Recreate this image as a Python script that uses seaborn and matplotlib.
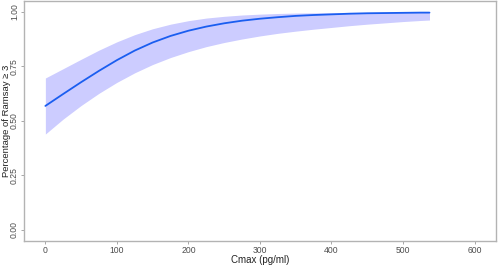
import matplotlib
matplotlib.use("Agg")
import matplotlib.pyplot as plt
import seaborn as sns
import pandas as pd

# values
cmax = [0, 25, 50, 75, 100, 125, 150, 175, 200, 225, 250, 275, 300,
        325, 350, 375, 400, 425, 450, 475, 500, 525, 537]
prob = [0.569, 0.624, 0.678, 0.730, 0.779, 0.823, 0.860, 0.890, 0.914, 0.933,
        0.948, 0.960, 0.969, 0.976, 0.982, 0.986, 0.989, 0.992, 0.994, 0.995,
        0.996, 0.997, 0.997]
upper = [0.697, 0.740, 0.783, 0.825, 0.863, 0.896, 0.923, 0.944, 0.960, 0.972,
         0.980, 0.986, 0.990, 0.993, 0.995, 0.996, 0.997, 0.998, 0.998, 0.999,
         0.999, 0.999, 0.999]
lower = [0.440, 0.509, 0.571, 0.627, 0.677, 0.721, 0.759, 0.791, 0.818, 0.841,
         0.860, 0.876, 0.890, 0.902, 0.912, 0.921, 0.929, 0.937, 0.944, 0.950,
         0.956, 0.961, 0.963]

x_ticks = [0, 100, 200, 300, 400, 500, 600]
y_ticks = [0.00, 0.25, 0.50, 0.75, 1.00]

df = pd.DataFrame({"Cmax": cmax, "prob": prob, "lo": lower, "hi": upper})

sns.set_style("white")
plt.rcParams["font.family"] = ["Liberation Sans", "DejaVu Sans"]

fig = plt.figure(figsize=(4.98, 2.65), dpi=100)
ax = fig.add_axes([0.048, 0.091, 0.948, 0.905])

ax.fill_between(df["Cmax"], df["lo"], df["hi"], color="#ccccff", linewidth=0)
sns.lineplot(data=df, x="Cmax", y="prob", color="#1a5ef0", linewidth=1.3, ax=ax)

ax.set_xlim(-30, 630)
ax.set_ylim(-0.05, 1.05)
ax.set_xticks(x_ticks)
ax.set_xticklabels([str(t) for t in x_ticks])
ax.set_yticks(y_ticks)
ax.set_yticklabels([f"{t:.2f}" for t in y_ticks], rotation=90, va="center")

ax.tick_params(axis="both", which="major", labelsize=6.2, labelcolor="#4d4d4d",
               color="#999999", length=2.5, width=0.6, direction="out", pad=1,
               bottom=True, left=True)

for sp in ax.spines.values():
    sp.set_color("#b3b3b3")
    sp.set_linewidth(1.0)

ax.set_xlabel("Cmax (pg/ml)", fontsize=7, color="#222222")
ax.set_ylabel("Percentage of Ramsay ≥ 3", fontsize=6.8, color="#222222")
ax.xaxis.set_label_coords(0.5, -0.058)
ax.yaxis.set_label_coords(-0.027, 0.5)

fig.savefig("out.png", dpi=100)
